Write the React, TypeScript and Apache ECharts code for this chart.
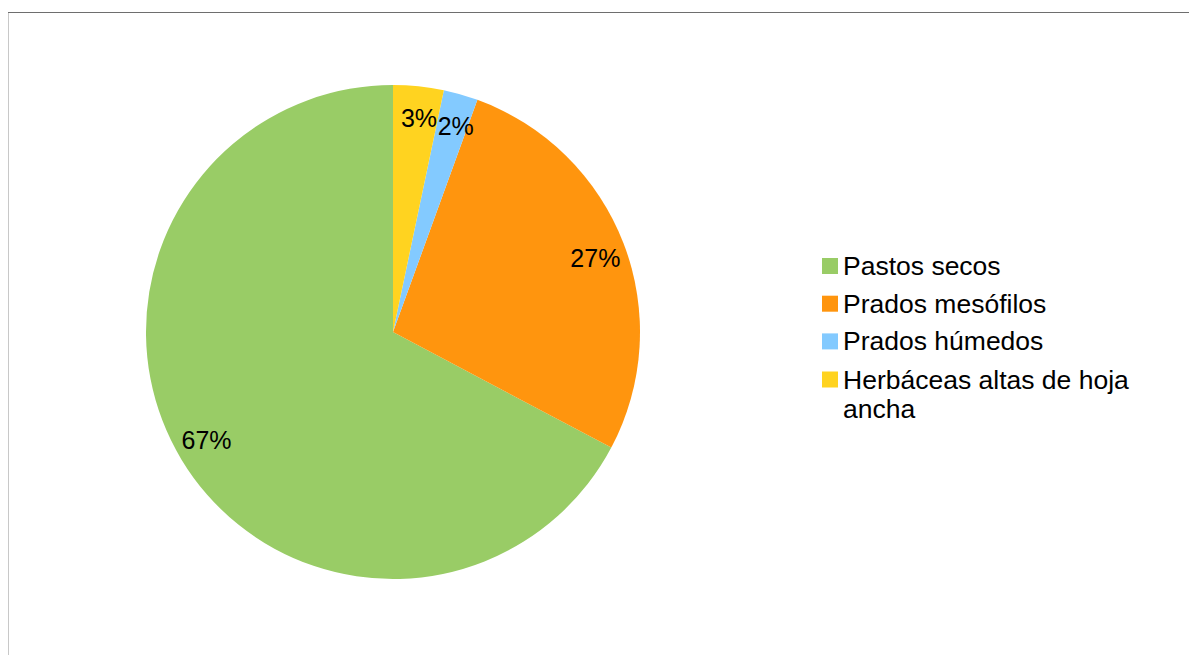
import React, { useEffect, useRef } from "react";
import * as echarts from "echarts";

const categories = ["Pastos secos", "Prados mesófilos", "Prados húmedos", "Herbáceas altas de hoja ancha"];
const values = [67.25, 27.2, 2.25, 3.3];
const colors = ["#99cc66", "#ff950e", "#83caff", "#ffd320"];
const legendLabels = ["Pastos secos", "Prados mesófilos", "Prados húmedos", "\nHerbáceas altas de hoja\nancha"];

const FONT = "'Liberation Sans', Arial, sans-serif";

export default function App() {
  const ref = useRef<HTMLDivElement>(null);
  useEffect(() => {
    if (!ref.current) return;
    const chart = echarts.init(ref.current, undefined, { renderer: "svg" });
    const data = categories.map((name, i) => ({ name, value: values[i], itemStyle: { color: colors[i] } }));
    const center = [393, 332];
    const R = 247;
    const legendText = (name: string) => legendLabels[categories.indexOf(name)];
    const legendTextStyle = { fontFamily: FONT, fontSize: 26.5, color: "#000000", lineHeight: 29 };
    chart.setOption({
      animation: false,
      backgroundColor: "#ffffff",
      textStyle: { fontFamily: FONT },
      legend: [
        {
          orient: "vertical",
          left: 822,
          top: 251.5,
          padding: 0,
          itemWidth: 16,
          itemHeight: 16,
          itemGap: 8.7,
          icon: "rect",
          selectedMode: false,
          data: categories.slice(0, 3),
          formatter: legendText,
          textStyle: legendTextStyle,
        },
        {
          orient: "vertical",
          left: 822,
          top: 336,
          padding: 0,
          itemWidth: 16,
          itemHeight: 16,
          icon: "rect",
          selectedMode: false,
          data: [categories[3]],
          formatter: legendText,
          textStyle: legendTextStyle,
        },
      ],
      graphic: [
        { type: "line", shape: { x1: 8, y1: 12.5, x2: 1189, y2: 12.5 }, style: { stroke: "#6e6e6e", lineWidth: 1 } },
        { type: "line", shape: { x1: 8.5, y1: 13, x2: 8.5, y2: 655 }, style: { stroke: "#c8c8c8", lineWidth: 1 } },
      ],
      series: [
        {
          type: "pie",
          center,
          radius: [0, R],
          startAngle: 90,
          clockwise: false,
          avoidLabelOverlap: false,
          silent: true,
          label: { show: false },
          labelLine: { show: false },
          itemStyle: { borderWidth: 0 },
          data,
        },
        {
          type: "pie",
          center,
          radius: [R * 0.72, R],
          startAngle: 89,
          clockwise: false,
          avoidLabelOverlap: false,
          silent: true,
          legendHoverLink: false,
          z: 3,
          itemStyle: { color: "rgba(0,0,0,0)", borderWidth: 0 },
          label: {
            show: true,
            position: "inside",
            fontFamily: FONT,
            fontSize: 25,
            color: "#000000",
            formatter: (p: any) => Math.round(p.percent) + "%",
          },
          labelLine: { show: false },
          data: categories.map((name, i) => ({ name: name + " ", value: values[i] })),
        },
      ],
    });
    return () => chart.dispose();
  }, []);
  return (
    <div
      ref={ref}
      style={{ position: "absolute", left: 0, top: 0, width: 1189, height: 655, background: "#fff" }}
    />
  );
}
